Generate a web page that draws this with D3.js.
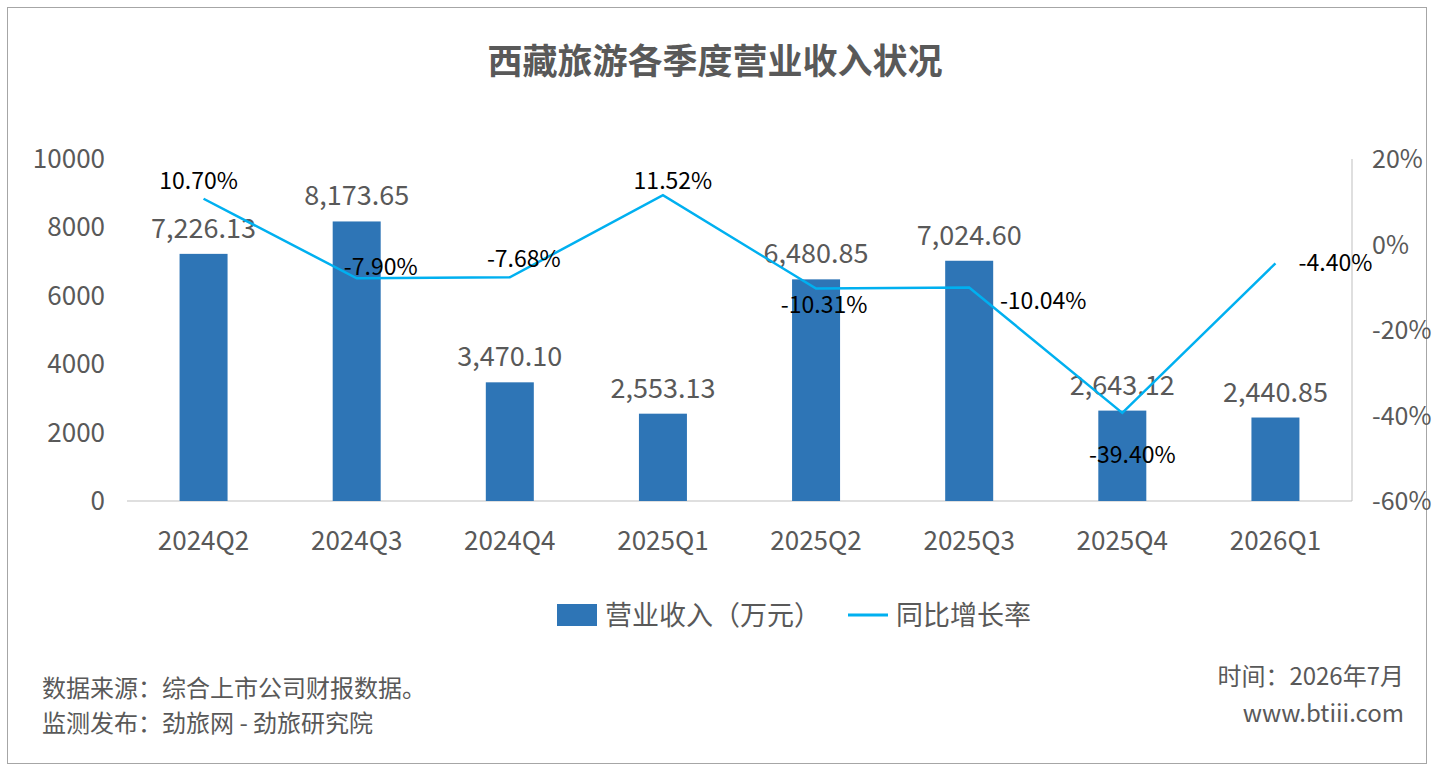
<!DOCTYPE html>
<html>
<head>
<meta charset="utf-8">
<style>
  body { margin: 0; padding: 0; background: #fff; }
  text { font-family: "Noto Sans CJK SC", "Noto Sans", sans-serif; }
</style>
</head>
<body>
<div id="chart"></div>
<script src="https://d3js.org/d3.v7.min.js"></script>
<script>
var quarters = ["2024Q2","2024Q3","2024Q4","2025Q1","2025Q2","2025Q3","2025Q4","2026Q1"];
var revenue = [7226.13, 8173.65, 3470.10, 2553.13, 6480.85, 7024.60, 2643.12, 2440.85];
var growth = [10.70, -7.90, -7.68, 11.52, -10.31, -10.04, -39.40, -4.40];
var leftTicks = [0, 2000, 4000, 6000, 8000, 10000];
var rightTicks = [-60, -40, -20, 0, 20];
// label offsets for the growth labels (dx, dy from point)
var growthLabelOffset = [[-5,-10],[24,-3],[14,-10],[10,-6],[8,24],[74,22],[10,50],[60,8]];

var W = 1434, H = 772;
var svg = d3.select("#chart").append("svg").attr("width", W).attr("height", H);
svg.append("rect").attr("x", 7.5).attr("y", 7.5).attr("width", 1419).attr("height", 756)
  .attr("fill", "#fff").attr("stroke", "#a6a6a6");

svg.append("text").attr("x", 715).attr("y", 74).attr("text-anchor", "middle")
  .attr("font-size", 35).attr("font-weight", "bold").attr("fill", "#595959")
  .text("西藏旅游各季度营业收入状况");

var x = d3.scaleBand().domain(quarters).range([127, 1352]);
var yL = d3.scaleLinear().domain([0, 10000]).range([501, 159]);
var yR = d3.scaleLinear().domain([-60, 20]).range([501, 159]);

// axes
svg.append("line").attr("x1", 127).attr("x2", 1352).attr("y1", 501).attr("y2", 501).attr("stroke", "#bfbfbf");
svg.append("line").attr("x1", 1352).attr("x2", 1352).attr("y1", 159).attr("y2", 501).attr("stroke", "#bfbfbf");

svg.selectAll(".lt").data(leftTicks).enter().append("text")
  .attr("x", 105).attr("y", d => yL(d) + 9).attr("text-anchor", "end")
  .attr("font-size", 26).attr("fill", "#595959").text(d => d);
svg.selectAll(".rt").data(rightTicks).enter().append("text")
  .attr("x", 1372).attr("y", d => yR(d) + 9)
  .attr("font-size", 25).attr("fill", "#595959").text(d => d + "%");
svg.selectAll(".xt").data(quarters).enter().append("text")
  .attr("x", d => x(d) + x.bandwidth() / 2).attr("y", 550).attr("text-anchor", "middle")
  .attr("font-size", 26).attr("fill", "#595959").text(d => d);

// bars
var bw = 48;
svg.selectAll(".bar").data(revenue).enter().append("rect")
  .attr("x", (d, i) => x(quarters[i]) + x.bandwidth() / 2 - bw / 2)
  .attr("y", d => yL(d)).attr("width", bw).attr("height", d => 501 - yL(d))
  .attr("fill", "#2e75b6");
svg.selectAll(".bl").data(revenue).enter().append("text")
  .attr("x", (d, i) => x(quarters[i]) + x.bandwidth() / 2).attr("y", d => yL(d) - 16)
  .attr("text-anchor", "middle").attr("font-size", 27).attr("fill", "#595959")
  .text(d => d3.format(",.2f")(d));

// line
var line = d3.line().x((d, i) => x(quarters[i]) + x.bandwidth() / 2).y(d => yR(d));
svg.append("path").datum(growth).attr("d", line).attr("fill", "none")
  .attr("stroke", "#00b0f0").attr("stroke-width", 2.5);
svg.selectAll(".gl").data(growth).enter().append("text")
  .attr("x", (d, i) => x(quarters[i]) + x.bandwidth() / 2 + growthLabelOffset[i][0])
  .attr("y", (d, i) => yR(d) + growthLabelOffset[i][1])
  .attr("text-anchor", "middle").attr("font-size", 23).attr("fill", "#000")
  .text(d => d.toFixed(2) + "%");

// legend
svg.append("rect").attr("x", 557).attr("y", 604).attr("width", 40).attr("height", 22).attr("fill", "#2e75b6");
svg.append("text").attr("x", 605).attr("y", 625).attr("font-size", 27).attr("fill", "#595959").text("营业收入（万元）");
svg.append("line").attr("x1", 848).attr("x2", 888).attr("y1", 615).attr("y2", 615).attr("stroke", "#00b0f0").attr("stroke-width", 3);
svg.append("text").attr("x", 896).attr("y", 625).attr("font-size", 27).attr("fill", "#595959").text("同比增长率");

// footer
svg.append("text").attr("x", 42).attr("y", 697).attr("font-size", 24).attr("fill", "#595959").text("数据来源：综合上市公司财报数据。");
svg.append("text").attr("x", 42).attr("y", 732).attr("font-size", 24).attr("fill", "#595959").text("监测发布：劲旅网 - 劲旅研究院");
svg.append("text").attr("x", 1404).attr("y", 685).attr("text-anchor", "end").attr("font-size", 24).attr("fill", "#595959").text("时间：2026年7月");
svg.append("text").attr("x", 1404).attr("y", 722).attr("text-anchor", "end").attr("font-size", 24).attr("fill", "#595959").text("www.btiii.com");
</script>
</body>
</html>
